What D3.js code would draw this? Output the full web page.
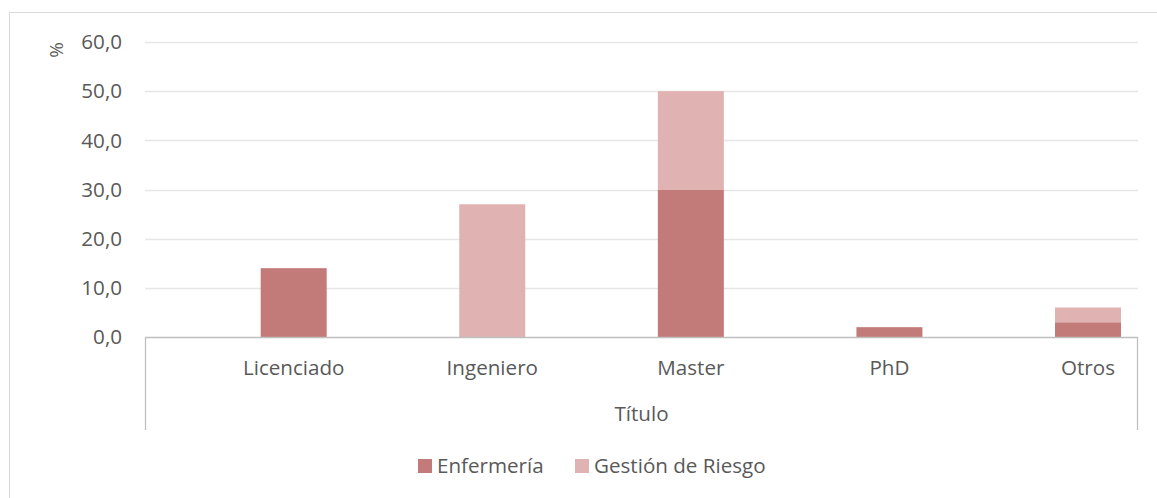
<!DOCTYPE html>
<html>
<head>
<meta charset="utf-8">
<script src="https://cdn.jsdelivr.net/npm/d3@7"></script>
<style>
  body { margin: 0; background: #fff; }
  text { font-family: "Open Sans", sans-serif; fill: #595959; }
</style>
</head>
<body>
<div id="chart"></div>
<script>
let width = 1157;
let height = 498;

// data
let categories = ["Licenciado", "Ingeniero", "Master", "PhD", "Otros"];
let enfermeria = [14.0, 0, 30.0, 2.0, 3.0];
let gestion = [0, 27.0, 20.0, 0, 3.0];
let seriesNames = ["Enfermería", "Gestión de Riesgo"];
let yTicks = [0, 10, 20, 30, 40, 50, 60];
let colors = ["#c27b78", "#e0b3b2"];

let plotLeft = 145, plotRight = 1138, plotTop = 42, plotBottom = 337;
let fontSize = "20.6px";

let svg = d3.select("#chart")
  .append("svg")
  .attr("width", width)
  .attr("height", height);

// outer chart border
svg.append("rect")
  .attr("x", 9.5).attr("y", 12.5)
  .attr("width", 1160).attr("height", 500)
  .attr("fill", "none")
  .attr("stroke", "#d9d9d9");

let y = d3.scaleLinear().domain([0, 60]).range([plotBottom, plotTop]);
let x = d3.scalePoint().domain(categories).range([293.7, 1088]);
let barW = 66;

// gridlines
svg.append("g")
  .selectAll("line")
  .data(yTicks.slice(1))
  .enter().append("line")
    .attr("x1", plotLeft).attr("x2", plotRight)
    .attr("y1", d => Math.round(y(d)) + 0.5)
    .attr("y2", d => Math.round(y(d)) + 0.5)
    .attr("stroke", "#e6e6e6")
    .attr("stroke-width", 1.3);

// y tick labels
svg.append("g")
  .selectAll("text")
  .data(yTicks)
  .enter().append("text")
    .attr("x", 122)
    .attr("y", d => y(d))
    .attr("dy", "0.35em")
    .attr("text-anchor", "end")
    .style("font-size", fontSize)
    .text(d => d3.format(".1f")(d).replace(".", ","));

svg.append("text")
  .attr("transform", "translate(63,50) rotate(-90)")
  .attr("text-anchor", "middle")
  .style("font-size", "19px")
  .text("%");

// stacked bars
let rows = categories.map((c, i) => ({ cat: c, a: enfermeria[i], b: gestion[i] }));
let stack = d3.stack().keys(["a", "b"])(rows);

svg.append("g")
  .selectAll("g")
  .data(stack)
  .enter().append("g")
    .attr("fill", (d, i) => colors[i])
  .selectAll("rect")
  .data(d => d.filter(s => s[1] - s[0] > 0))
  .enter().append("rect")
    .attr("x", d => x(d.data.cat) - barW / 2)
    .attr("width", barW)
    .attr("y", d => y(d[1]))
    .attr("height", d => y(d[0]) - y(d[1]));

// category axis box
let axis = svg.append("g").attr("stroke", "#bfbfbf").attr("stroke-width", 1.3);
axis.append("line").attr("x1", plotLeft).attr("x2", plotRight).attr("y1", plotBottom + 0.5).attr("y2", plotBottom + 0.5);
axis.append("line").attr("x1", plotLeft + 0.5).attr("x2", plotLeft + 0.5).attr("y1", plotBottom).attr("y2", 430);
axis.append("line").attr("x1", plotRight - 0.5).attr("x2", plotRight - 0.5).attr("y1", plotBottom).attr("y2", 430);

svg.append("g")
  .selectAll("text")
  .data(categories)
  .enter().append("text")
    .attr("x", d => x(d))
    .attr("y", 375)
    .attr("text-anchor", "middle")
    .style("font-size", fontSize)
    .text(d => d);

svg.append("text")
  .attr("x", (plotLeft + plotRight) / 2)
  .attr("y", 421)
  .attr("text-anchor", "middle")
  .style("font-size", fontSize)
  .text("Título");

// legend
let legendX = [418, 575];
let legend = svg.append("g")
  .selectAll("g")
  .data(seriesNames)
  .enter().append("g")
    .attr("transform", (d, i) => "translate(" + legendX[i] + ",459)");
legend.append("rect")
  .attr("width", 14).attr("height", 14)
  .attr("fill", (d, i) => colors[i]);
legend.append("text")
  .attr("x", 19).attr("y", 14)
  .style("font-size", fontSize)
  .text(d => d);
</script>
</body>
</html>
